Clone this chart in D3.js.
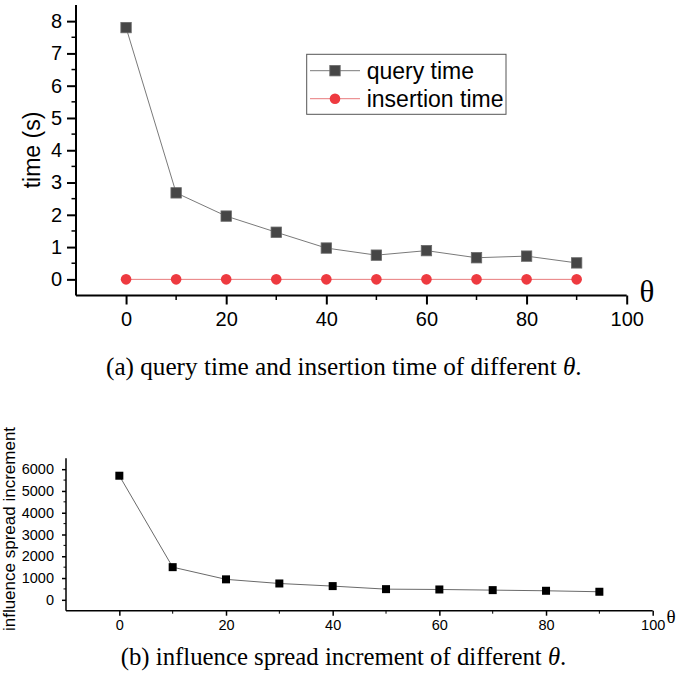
<!DOCTYPE html>
<html>
<head>
<meta charset="utf-8">
<script src="https://cdn.jsdelivr.net/npm/d3@7"></script>
<style>
  html, body { margin: 0; padding: 0; background: #fff; }
  svg { display: block; }
  text { font-family: "Liberation Sans", Arial, sans-serif; fill: #000; }
  .serif { font-family: "Liberation Serif", "Times New Roman", serif; }
</style>
</head>
<body>
<svg id="chart" width="685" height="674"></svg>
<script>
// ---------- data ----------
const thetaA = [0, 10, 20, 30, 40, 50, 60, 70, 80, 90];
const queryTime = [7.80, 2.68, 1.96, 1.46, 0.97, 0.75, 0.89, 0.67, 0.72, 0.51];
const insertionTime = [0, 0, 0, 0, 0, 0, 0, 0, 0, 0];
const seriesNamesA = ["query time", "insertion time"];
const yTicksA = [0, 1, 2, 3, 4, 5, 6, 7, 8];
const xTicksMajor = [0, 20, 40, 60, 80, 100];
const xTicksMinor = [10, 30, 50, 70, 90];

const thetaB = [0, 10, 20, 30, 40, 50, 60, 70, 80, 90];
const spreadIncrement = [5700, 1500, 940, 750, 630, 490, 475, 445, 415, 370];
const yTicksB = [0, 1000, 2000, 3000, 4000, 5000, 6000];

const captionA = ["(a) query time and insertion time of different ", "θ", "."];
const captionB = ["(b) influence spread increment of different ", "θ", "."];

const svg = d3.select("#chart");

// ---------- chart (a) ----------
const xA = d3.scaleLinear().domain([-10, 100]).range([76, 626.7]);
const yA = d3.scaleLinear().domain([-0.5, 8.5]).range([295.5, 5]);
const gA = svg.append("g");

const yAxisA = d3.axisLeft(yA).tickValues(yTicksA).tickSize(9).tickPadding(5).tickFormat(d3.format("d"));
const yAxA = gA.append("g").attr("transform", `translate(${xA(-10)},0)`).call(yAxisA)
  .attr("font-size", 20).attr("font-family", "Liberation Sans, Arial, sans-serif");
yAxA.select(".domain").attr("stroke-width", 2).attr("d", `M0,${yA(-0.5)}V${yA(8.5)}`);
yAxA.selectAll(".tick line").attr("stroke-width", 2);
yAxA.selectAll(".tick text").style("font-size", "20px");
const yMinorA = d3.range(-0.5, 8.5, 1).filter(v => v > -0.5);
gA.append("g").selectAll("line").data(yMinorA).join("line")
  .attr("x1", xA(-10) - 4.5).attr("x2", xA(-10)).attr("y1", d => yA(d)).attr("y2", d => yA(d))
  .attr("stroke", "#000").attr("stroke-width", 1.5);

const xAxisA = d3.axisBottom(xA).tickValues(xTicksMajor).tickSize(9).tickPadding(7).tickFormat(d3.format("d"));
const xAxA = gA.append("g").attr("transform", `translate(0,${yA(-0.5)})`).call(xAxisA)
  .attr("font-size", 20).attr("font-family", "Liberation Sans, Arial, sans-serif");
xAxA.select(".domain").attr("stroke-width", 2).attr("d", `M${xA(-10)},0H${xA(100)}`);
xAxA.selectAll(".tick line").attr("stroke-width", 2);
xAxA.selectAll(".tick text").style("font-size", "20px");
gA.append("g").selectAll("line").data(xTicksMinor).join("line")
  .attr("x1", d => xA(d)).attr("x2", d => xA(d)).attr("y1", yA(-0.5)).attr("y2", yA(-0.5) + 4.5)
  .attr("stroke", "#000").attr("stroke-width", 1.5);

gA.append("text").attr("transform", `translate(40,150) rotate(-90)`)
  .attr("text-anchor", "middle").style("font-size", "23px").text("time (s)");
gA.append("text").attr("class", "serif").attr("x", 647).attr("y", 302)
  .attr("text-anchor", "middle").style("font-size", "31px").text("θ");

const lineA = d3.line().x((d, i) => xA(thetaA[i])).y(d => yA(d));
gA.append("path").datum(insertionTime).attr("d", lineA).attr("fill", "none").attr("stroke", "#e87b7d").attr("stroke-width", 1);
gA.append("path").datum(queryTime).attr("d", lineA).attr("fill", "none").attr("stroke", "#7a7a7a").attr("stroke-width", 1);
gA.append("g").selectAll("rect").data(queryTime).join("rect")
  .attr("x", (d, i) => xA(thetaA[i]) - 5.2).attr("y", d => yA(d) - 5.2)
  .attr("width", 10.4).attr("height", 10.4).attr("fill", "#464646").attr("stroke", "#6a6a6a").attr("stroke-width", 0.8);
gA.append("g").selectAll("circle").data(insertionTime).join("circle")
  .attr("cx", (d, i) => xA(thetaA[i])).attr("cy", d => yA(d)).attr("r", 5.3).attr("fill", "#ee3a40");

const leg = gA.append("g");
leg.append("rect").attr("x", 306.7).attr("y", 54.3).attr("width", 199.3).attr("height", 60)
  .attr("fill", "#fff").attr("stroke", "#555").attr("stroke-width", 1);
const legRows = [
  { name: seriesNamesA[0], y: 70.7, color: "#7a7a7a" },
  { name: seriesNamesA[1], y: 98.7, color: "#e87b7d" }
];
legRows.forEach((r, i) => {
  leg.append("line").attr("x1", 310).attr("x2", 360).attr("y1", r.y).attr("y2", r.y).attr("stroke", r.color).attr("stroke-width", 1);
  if (i === 0) {
    leg.append("rect").attr("x", 335 - 5.2).attr("y", r.y - 5.2).attr("width", 10.4).attr("height", 10.4)
      .attr("fill", "#464646").attr("stroke", "#6a6a6a").attr("stroke-width", 0.8);
  } else {
    leg.append("circle").attr("cx", 335).attr("cy", r.y).attr("r", 5.3).attr("fill", "#ee3a40");
  }
  leg.append("text").attr("x", 366.7).attr("y", r.y + 8).style("font-size", "23px").text(r.name);
});

// ---------- chart (b) ----------
const xB = d3.scaleLinear().domain([-10, 100]).range([66, 652.7]);
const yB = d3.scaleLinear().domain([-500, 6500]).range([610.7, 458.3]);
const gB = svg.append("g");

const yAxisB = d3.axisLeft(yB).tickValues(yTicksB).tickSize(4).tickPadding(8).tickFormat(d3.format("d"));
const yAxB = gB.append("g").attr("transform", `translate(${xB(-10)},0)`).call(yAxisB)
  .attr("font-size", 14.5).attr("font-family", "Liberation Sans, Arial, sans-serif");
yAxB.select(".domain").attr("stroke-width", 1.5).attr("d", `M0,${yB(-500)}V${yB(6500)}`);
yAxB.selectAll(".tick line").attr("stroke-width", 1.5);
yAxB.selectAll(".tick text").style("font-size", "14.5px");
const yMinorB = d3.range(500, 6500, 1000);
gB.append("g").selectAll("line").data(yMinorB).join("line")
  .attr("x1", xB(-10) - 2.5).attr("x2", xB(-10)).attr("y1", d => yB(d)).attr("y2", d => yB(d))
  .attr("stroke", "#000").attr("stroke-width", 1);

const xAxisB = d3.axisBottom(xB).tickValues(xTicksMajor).tickSize(5).tickPadding(4).tickFormat(d3.format("d"));
const xAxB = gB.append("g").attr("transform", `translate(0,${yB(-500)})`).call(xAxisB)
  .attr("font-size", 14.5).attr("font-family", "Liberation Sans, Arial, sans-serif");
xAxB.select(".domain").attr("stroke-width", 1.5).attr("d", `M${xB(-10)},0H${xB(100)}`);
xAxB.selectAll(".tick line").attr("stroke-width", 1.5);
xAxB.selectAll(".tick text").style("font-size", "14.5px");
gB.append("g").selectAll("line").data(xTicksMinor).join("line")
  .attr("x1", d => xB(d)).attr("x2", d => xB(d)).attr("y1", yB(-500)).attr("y2", yB(-500) + 3)
  .attr("stroke", "#000").attr("stroke-width", 1);

gB.append("text").attr("transform", `translate(15,529) rotate(-90)`)
  .attr("text-anchor", "middle").style("font-size", "17px").text("influence spread increment");
gB.append("text").attr("class", "serif").attr("x", 671).attr("y", 622.5)
  .attr("text-anchor", "middle").style("font-size", "19px").text("θ");

const lineB = d3.line().x((d, i) => xB(thetaB[i])).y(d => yB(d));
gB.append("path").datum(spreadIncrement).attr("d", lineB).attr("fill", "none").attr("stroke", "#6a6a6a").attr("stroke-width", 1);
gB.append("g").selectAll("rect").data(spreadIncrement).join("rect")
  .attr("x", (d, i) => xB(thetaB[i]) - 4).attr("y", d => yB(d) - 4)
  .attr("width", 8).attr("height", 8).attr("fill", "#000");

// ---------- captions ----------
function caption(parts, x, y, targetW) {
  const t = svg.append("text").attr("class", "serif").attr("x", x).attr("y", y).style("font-size", "20px");
  t.append("tspan").text(parts[0]);
  t.append("tspan").attr("font-style", "italic").text(parts[1]);
  t.append("tspan").text(parts[2]);
  const w = t.node().getComputedTextLength();
  t.style("font-size", (20 * targetW / w) + "px");
}
caption(captionA, 106, 375, 476);
caption(captionB, 120.7, 665, 446);
</script>
</body>
</html>
